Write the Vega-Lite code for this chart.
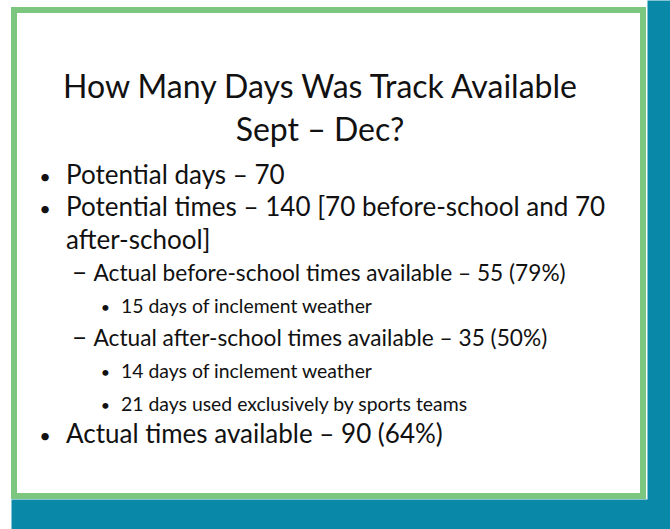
{
  "$schema": "https://vega.github.io/schema/vega-lite/v6.json",
  "width": 629,
  "height": 486,
  "autosize": {"type": "none"},
  "padding": {"left": 14, "top": 10, "right": 27, "bottom": 33},
  "background": "white",
  "config": {
    "view": {"fill": "white", "stroke": "#7dc680", "strokeWidth": 6},
    "text": {"font": "Lato", "color": "#111111"}
  },
  "datasets": {
    "title": [
      {"line": 1, "text": "How Many Days Was Track Available"},
      {"line": 2, "text": "Sept – Dec?"}
    ],
    "bullets": [
      {"line": 1, "level": 1, "marker": "•", "text": "Potential days – 70"},
      {"line": 2, "level": 1, "marker": "•", "text": "Potential times – 140 [70 before-school and 70"},
      {"line": 3, "level": 1, "marker": "", "text": "after-school]"},
      {"line": 4, "level": 2, "marker": "–", "text": "Actual before-school times available – 55 (79%)"},
      {"line": 5, "level": 3, "marker": "•", "text": "15 days of inclement weather"},
      {"line": 6, "level": 2, "marker": "–", "text": "Actual after-school times available – 35 (50%)"},
      {"line": 7, "level": 3, "marker": "•", "text": "14 days of inclement weather"},
      {"line": 8, "level": 3, "marker": "•", "text": "21 days used exclusively by sports teams"},
      {"line": 9, "level": 1, "marker": "•", "text": "Actual times available – 90 (64%)"}
    ]
  },
  "layer": [
    {
      "data": {"name": "title"},
      "mark": {"type": "text", "font": "Lato", "fontSize": 32, "align": "center", "baseline": "alphabetic", "dx": -8.5, "color": "#111111"},
      "encoding": {
        "y": {"field": "line", "type": "quantitative", "scale": {"domain": [-1.0465, 10.2558], "range": [0, 486], "nice": false, "zero": false}, "axis": null},
        "text": {"field": "text"}
      }
    },
    {
      "data": {"name": "bullets"},
      "encoding": {
        "x": {"field": "level", "type": "quantitative", "scale": {"domain": [-1, 22.9636], "range": [-3, 656], "nice": false, "zero": false},
          "axis": {"orient": "bottom", "offset": 18, "labels": false, "ticks": false, "grid": false, "title": null, "domain": true, "domainColor": "#0a88a8", "domainWidth": 30, "domainCap": "butt"}},
        "y": {"field": "line", "type": "quantitative", "scale": {"domain": [-4.6834, 11.6564], "range": [-10, 519], "nice": false, "zero": false},
          "axis": {"orient": "right", "offset": 15.5, "labels": false, "ticks": false, "grid": false, "title": null, "domain": true, "domainColor": "#0a88a8", "domainWidth": 23, "domainCap": "butt"}},
        "size": {"field": "level", "type": "quantitative", "scale": {"domain": [1, 3], "range": [26, 19.4]}, "legend": null}
      },
      "layer": [
        {
          "transform": [{"filter": "datum.level == 1"}],
          "mark": {"type": "text", "align": "center", "baseline": "alphabetic", "dx": -21, "color": "#111111"},
          "encoding": {"text": {"field": "marker"}, "size": {"value": 20}}
        },
        {
          "transform": [{"filter": "datum.level == 2"}],
          "mark": {"type": "text", "align": "center", "baseline": "alphabetic", "dx": -14, "color": "#111111"},
          "encoding": {"text": {"field": "marker"}, "size": {"value": 27}}
        },
        {
          "transform": [{"filter": "datum.level == 3"}],
          "mark": {"type": "text", "align": "center", "baseline": "alphabetic", "dx": -15.5, "color": "#111111"},
          "encoding": {"text": {"field": "marker"}, "size": {"value": 16}}
        },
        {
          "mark": {"type": "text", "align": "left", "baseline": "alphabetic", "color": "#111111"},
          "encoding": {"text": {"field": "text"}}
        }
      ]
    }
  ],
  "resolve": {"scale": {"x": "independent", "y": "independent", "size": "independent"}, "axis": {"x": "independent", "y": "independent"}}
}
